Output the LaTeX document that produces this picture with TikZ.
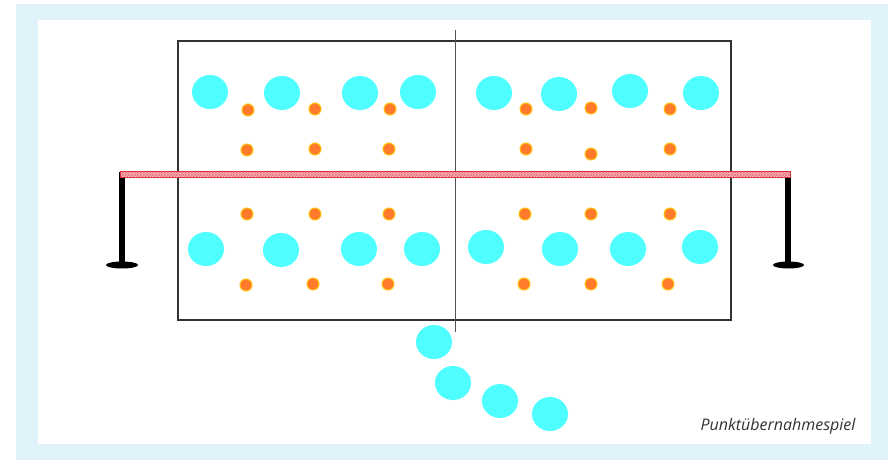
\documentclass[tikz,border=0pt]{standalone}
\usepackage{fontspec}
\newfontfamily\labelfont{Open Sans}
\usetikzlibrary{shapes.geometric,patterns}
\definecolor{frame}{HTML}{E0F3FA}
\definecolor{ink}{HTML}{333333}
\definecolor{player}{HTML}{4FFFFF}
\definecolor{dotfill}{HTML}{FF7A2A}
\definecolor{dotring}{HTML}{FFC20E}
\definecolor{netred}{HTML}{E0303A}
\definecolor{netpink}{HTML}{F6C4C7}
\tikzset{
  man/.style={ellipse,fill=player,minimum width=36pt,minimum height=34pt,inner sep=0pt},
  spot/.style={circle,fill=dotfill,draw=dotring,line width=1pt,minimum size=12pt,inner sep=0pt},
  court/.style={draw=ink,line width=1.3pt},
  midline/.style={draw=ink!85,line width=1pt},
  netband/.style={draw=netred,line width=0.9pt,pattern=crosshatch,pattern color=netred!70,preaction={fill=netpink}},
  pole/.style={line width=5.5pt,black},
  lbl/.style={font=\labelfont\itshape\fontsize{16}{19}\selectfont,text=ink}}
\begin{document}
\begin{tikzpicture}[x=1pt,y=-1pt]
  \useasboundingbox (0,0) rectangle (888,460);
  % frame
  \fill[frame] (16,4) rectangle (888,460);
  \fill[white] (38,20) rectangle (871,444);
  % court
  \draw[court] (178,41) rectangle (731,320);
  \draw[midline] (455,30) -- (455,332);
  % upper half
  \node[man] (u1) at (210,92) {}; \node[man] (u2) at (282,93) {}; \node[man] (u3) at (360,93) {}; \node[man] (u4) at (418,92) {};
  \node[man] (u5) at (494,93) {}; \node[man] (u6) at (559,94) {}; \node[man] (u7) at (630,91) {}; \node[man] (u8) at (701,93) {};
  \node[spot] (ua1) at (248,110) {}; \node[spot] (ua2) at (315,109) {}; \node[spot] (ua3) at (390,109) {};
  \node[spot] (ua4) at (526,109) {}; \node[spot] (ua5) at (591,108) {}; \node[spot] (ua6) at (670,109) {};
  \node[spot] (ub1) at (247,150) {}; \node[spot] (ub2) at (315,149) {}; \node[spot] (ub3) at (389,149) {};
  \node[spot] (ub4) at (526,149) {}; \node[spot] (ub5) at (591,154) {}; \node[spot] (ub6) at (670,149) {};
  % lower half
  \node[spot] (la1) at (247,214) {}; \node[spot] (la2) at (315,214) {}; \node[spot] (la3) at (389,214) {};
  \node[spot] (la4) at (525,214) {}; \node[spot] (la5) at (591,214) {}; \node[spot] (la6) at (670,214) {};
  \node[man] (l1) at (206,249) {}; \node[man] (l2) at (281,250) {}; \node[man] (l3) at (359,249) {}; \node[man] (l4) at (422,249) {};
  \node[man] (l5) at (486,247) {}; \node[man] (l6) at (560,249) {}; \node[man] (l7) at (628,249) {}; \node[man] (l8) at (700,247) {};
  \node[spot] (lb1) at (246,285) {}; \node[spot] (lb2) at (313,284) {}; \node[spot] (lb3) at (388,284) {};
  \node[spot] (lb4) at (524,284) {}; \node[spot] (lb5) at (591,284) {}; \node[spot] (lb6) at (668,284) {};
  % players out
  \node[man] (o1) at (434,342) {}; \node[man] (o2) at (453,383) {}; \node[man] (o3) at (500,401) {}; \node[man] (o4) at (550,414) {};
  % net and poles
  \draw[pole] (122,172) -- (122,264);
  \fill[black] (122,265) ellipse (16 and 3.5);
  \draw[pole] (788,172) -- (788,264);
  \fill[black] (788.5,265) ellipse (15.5 and 3.5);
  \draw[netband] (120,171.5) rectangle (790,177.5);
  \node[lbl,anchor=base east] (cap) at (859,430) {Punktübernahmespiel};
\end{tikzpicture}
\end{document}
